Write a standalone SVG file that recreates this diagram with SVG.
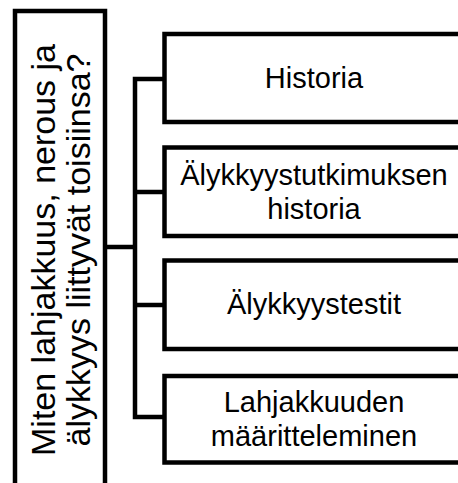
<svg xmlns="http://www.w3.org/2000/svg" width="458" height="483" viewBox="0 0 458 483">
  <style>
    .box { fill: #ffffff; stroke: #000000; stroke-width: 4.5; }
    .conn { fill: none; stroke: #000000; stroke-width: 4.5; stroke-linejoin: miter; stroke-linecap: butt; }
    .lbl { font-family: "Liberation Sans", Arial, sans-serif; font-size: 29px; fill: #000000; text-anchor: middle; }
    .root { font-family: "Liberation Sans", Arial, sans-serif; font-size: 34px; fill: #000000; text-anchor: middle; }
  </style>
  <rect width="458" height="483" fill="#ffffff"/>
  <g id="connectors">
    <path class="conn" d="M105,247 H135"/>
    <path class="conn" d="M164.5,79 H135 V417 H164.5"/>
    <path class="conn" d="M135,192 H164.5"/>
    <path class="conn" d="M135,305 H164.5"/>
  </g>
  <g id="root">
    <rect class="box" x="15" y="11" width="90" height="485"/>
    <g transform="translate(60,250) rotate(-90)">
      <text class="root" x="0" y="-5">Miten lahjakkuus, nerous ja</text>
      <text class="root" x="0" y="30">älykkyys liittyvät toisiinsa?</text>
    </g>
  </g>
  <g id="n1">
    <rect class="box" x="164.5" y="34" width="300" height="88"/>
    <text class="lbl" x="314" y="88">Historia</text>
  </g>
  <g id="n2">
    <rect class="box" x="164.5" y="147.5" width="300" height="88.5"/>
    <text class="lbl" x="314" y="185">Älykkyystutkimuksen</text>
    <text class="lbl" x="314" y="219">historia</text>
  </g>
  <g id="n3">
    <rect class="box" x="164.5" y="260.5" width="300" height="88.5"/>
    <text class="lbl" x="314" y="314">Älykkyystestit</text>
  </g>
  <g id="n4">
    <rect class="box" x="164.5" y="376" width="300" height="86.5"/>
    <text class="lbl" x="314" y="411.5">Lahjakkuuden</text>
    <text class="lbl" x="314" y="445.5">määritteleminen</text>
  </g>
</svg>
